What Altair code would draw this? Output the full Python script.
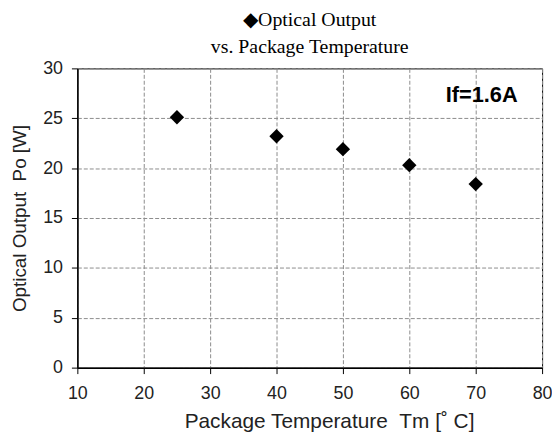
import altair as alt
import pandas as pd

temps = [25, 40, 50, 60, 70]
outputs = [25.1, 23.2, 21.9, 20.3, 18.4]

note_x = [70.9]
note_y = [27.35]
note_text = ["If=1.6A"]

x_ticks = [10, 20, 30, 40, 50, 60, 70, 80]
y_ticks = [0, 5, 10, 15, 20, 25, 30]

df = pd.DataFrame({"t": temps, "po": outputs})
notes = pd.DataFrame({"x": note_x, "y": note_y, "label": note_text})

x_enc = alt.X(
    "t:Q",
    scale=alt.Scale(domain=[10, 80], nice=False),
    axis=alt.Axis(
        values=x_ticks,
        title="Package Temperature\u00a0\u00a0Tm [\u02da\u00a0C]",
        titleFont="Liberation Sans", titleFontSize=21, titleFontWeight="normal",
        titleColor="#222", titlePadding=8, titleX=254,
        labelFont="Liberation Sans", labelFontSize=18, labelColor="#222",
        labelPadding=11, labelFlush=False, labelOverlap=False,
        tickSize=6, tickColor="black", domainColor="black",
        gridColor="#8c8c8c", gridDash=[4, 2], gridWidth=1,
    ),
)
y_enc = alt.Y(
    "po:Q",
    scale=alt.Scale(domain=[0, 30], nice=False),
    axis=alt.Axis(
        values=y_ticks,
        title="Optical Output\u00a0\u00a0Po [W]",
        titleFont="Liberation Sans", titleFontSize=19, titleFontWeight="normal",
        titleColor="#222", titlePadding=13,
        labelFont="Liberation Sans", labelFontSize=18, labelColor="#222",
        labelPadding=9, labelFlush=False, labelOverlap=False,
        tickSize=6, tickColor="black", domainColor="black",
        gridColor="#8c8c8c", gridDash=[4, 2], gridWidth=1,
    ),
)

points = alt.Chart(df).mark_point(
    shape="diamond", filled=True, color="black", size=210, opacity=1
).encode(x=x_enc, y=y_enc)

label = alt.Chart(notes).mark_text(
    font="Liberation Sans", fontSize=22, fontWeight="bold", color="black",
    align="center", baseline="middle"
).encode(x=alt.X("x:Q"), y=alt.Y("y:Q"), text="label:N")

chart = (
    alt.layer(points, label)
    .properties(
        width=469,
        height=302,
        autosize=alt.AutoSizeParams(type="none"),
        padding={"left": 70, "top": 59, "right": 10, "bottom": 63},
        title=alt.TitleParams(
            text=["\u25c6Optical Output", "vs.\u00a0Package Temperature"],
            font="Liberation Serif", fontSize=20, fontWeight="normal",
            color="black", lineHeight=27, anchor="middle", offset=3,
        ),
    )
    .configure_view(stroke="black", strokeWidth=1)
    .configure_axis(domainWidth=1.5)
)

chart.save("out.html", embed_options={"renderer": "svg", "actions": False})
